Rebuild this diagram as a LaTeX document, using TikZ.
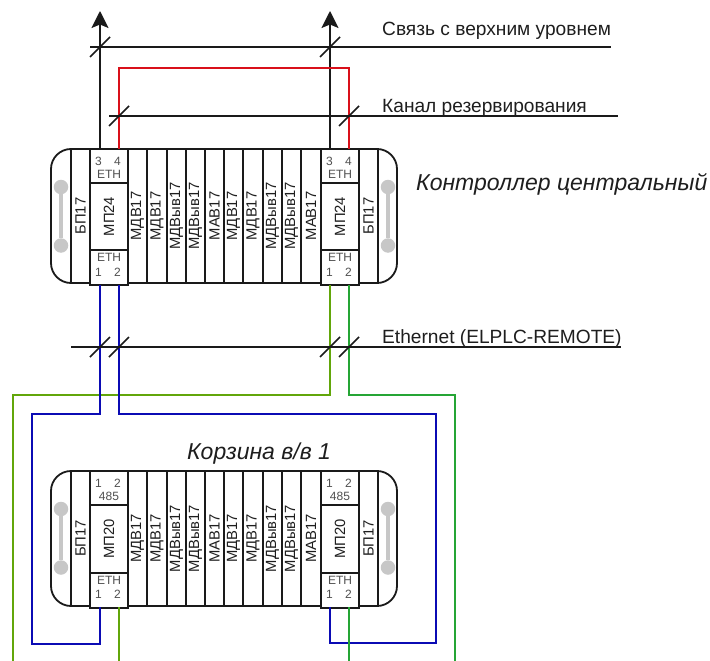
\documentclass[tikz,border=0pt]{standalone}
\usepackage{fontspec}
\setmainfont{Liberation Sans}
\usetikzlibrary{arrows.meta,calc}
\definecolor{wblue}{HTML}{0B0BB4}
\definecolor{wred}{HTML}{D9101A}
\definecolor{wgreenA}{HTML}{62A60A}
\definecolor{wgreenB}{HTML}{25A535}
\definecolor{txt}{HTML}{1E1E1E}
\definecolor{port}{HTML}{505050}
\definecolor{frame}{HTML}{1A1A1A}
\tikzset{
  x=1pt,y=-1pt,
  edge/.style={line width=1.8pt,draw=frame},
  bus/.style={line width=1.8pt,draw=frame},
  tickmark/.style={line width=1.5pt,draw=frame},
  wire/.style={line width=1.8pt,line join=miter},
  shell/.style={draw=frame,line width=1.8pt,rounded corners=20pt,fill=white,minimum width=346pt,inner sep=0pt},
  slot/.style={draw=frame,line width=1.8pt,fill=white,rotate=90,inner sep=0pt,text=txt,font=\fontsize{14.8pt}{15pt}\selectfont},
  cpu/.style={slot,minimum height=38pt},
  portbox/.style={draw=frame,line width=1.8pt,fill=white,minimum width=38pt,inner sep=0pt},
  num/.style={inner sep=0pt,text=port,font=\fontsize{12pt}{12pt}\selectfont},
  grip/.style={draw=none,fill=black!22,circle,minimum size=14.5pt,inner sep=0pt},
  caption/.style={anchor=west,inner sep=0pt,text=txt,font=\fontsize{19.15pt}{20pt}\selectfont},
  ititle/.style={anchor=west,inner sep=0pt,text=txt,font=\itshape\fontsize{23pt}{24pt}\selectfont},
  uptip/.style={-{Stealth[length=17pt,width=17pt,inset=3.5pt]}}
}
% #1 prefix, #2 top y, #3 CPU text, #4 upper label, #5 upper a, #6 upper b, #7 divider 1 y, #8 divider 2 y, #9 height
\newcommand{\rackmodule}[9]{%
  \pgfmathsetmacro{\ymid}{#2+#9/2}
  \node[shell,minimum height=#9pt] (#1shell) at (224,\ymid) {};
  \foreach \n/\ea/\eb/\lab in {bpl/71/90/БП17,s1/128/147/МДВ17,s2/147/167/МДВ17,s3/167/186/МДВыв17,s4/186/205/МДВыв17,s5/205/224/МАВ17,s6/224/243/МДВ17,s7/243/263/МДВ17,s8/263/282/МДВыв17,s9/282/301/МДВыв17,s10/301/321/МАВ17,bpr/359/378/БП17}{
    \pgfmathsetmacro{\sw}{\eb-\ea}
    \node[slot,minimum width=#9pt,minimum height=\sw pt] (#1\n) at ({(\ea+\eb)/2},\ymid) {\lab};
  }
  \foreach \side/\cx/\gx in {l/109/61,r/340/388}{
    \pgfmathsetmacro{\hup}{#7-#2}
    \pgfmathsetmacro{\hlo}{#2+#9+2-#8}
    \node[portbox,minimum height=\hup pt] (#1up\side) at (\cx,{#2+1+(\hup-2)/2}) {};
    \node[portbox,minimum height=\hlo pt] (#1lo\side) at (\cx,{#8+\hlo/2}) {};
    \node[cpu,minimum width={#8-#7}] (#1cpu\side) at (\cx,{(#7+#8)/2}) {#3};
    \node[num] (#1ua\side) at (\cx-10.5,#2+12.5) {#5};
    \node[num] (#1ub\side) at (\cx+8.5,#2+12.5) {#6};
    \node[num] (#1ut\side) at (\cx,#2+25.5) {#4};
    \node[num] (#1et\side) at (\cx,#8+7.5) {ETH};
    \node[num] (#1la\side) at (\cx-10.5,#2+123.5) {1};
    \node[num] (#1lb\side) at (\cx+8.5,#2+123.5) {2};
    \node[grip] (#1ga\side) at (\gx,#2+38) {};
    \node[grip] (#1gb\side) at (\gx,#2+96.5) {};
    \draw[line width=3.2pt,draw=black!22] (#1ga\side) -- (#1gb\side);
  }
}
\newcommand{\crosstick}[2]{\draw[tickmark] (#1-10,#2+10) -- (#1+10,#2-10);}
\begin{document}
\begin{tikzpicture}
\useasboundingbox (0,0) rectangle (710,661);
% coordinates of the free ends
\coordinate (tipL) at (100,11);
\coordinate (tipR) at (330,11);
\coordinate (sA) at (90,47);   \coordinate (sB) at (611,47);
\coordinate (rA) at (109,116); \coordinate (rB) at (618,116);
\coordinate (eA) at (71,347);\coordinate (eB) at (621,347);
% central controller
\rackmodule{c}{149}{МП24}{ETH}{3}{4}{183}{250}{134}
% remote rack
\rackmodule{k}{471}{МП20}{485}{1}{2}{505}{573}{135}
% wires between the racks
\draw[wire,wgreenA] (330,285) -- (330,395) -- (13,395) -- (13,661);
\draw[wire,wgreenB] (349,285) -- (349,395) -- (455,395) -- (455,661);
\draw[wire,wblue] (100,285) -- (100,414) -- (32,414) -- (32,644) -- (100,644) -- (100,607);
\draw[wire,wblue] (119,285) -- (119,414) -- (436,414) -- (436,643) -- (330,643) -- (330,607);
\draw[wire,wgreenA] (119,607) -- (119,661);
\draw[wire,wgreenB] (349,607) -- (349,661);
% upper wires
\draw[edge,uptip] (100,149) -- (tipL);
\draw[edge,uptip] (330,149) -- (tipR);
\draw[wire,wred] (119,149) -- (119,68) -- (349,68) -- (349,149);
% buses
\draw[bus] (sA) -- (sB);
\draw[bus] (rA) -- (rB);
\draw[bus] (eA) -- (eB);
\crosstick{100}{47}\crosstick{330}{47}
\crosstick{119}{116}\crosstick{349}{116}
\crosstick{100}{347}\crosstick{119}{347}\crosstick{330}{347}\crosstick{349}{347}
% labels
\node[caption] (t1) at (382,31) {Связь с верхним уровнем};
\node[caption] (t2) at (382,108) {Канал резервирования};
\node[caption] (t3) at (382,339) {Ethernet (ELPLC-REMOTE)};
\node[ititle] (t4) at (416,184.5) {Контроллер центральный};
\node[ititle] (t5) at (187,453.5) {Корзина в/в 1};
\end{tikzpicture}
\end{document}
